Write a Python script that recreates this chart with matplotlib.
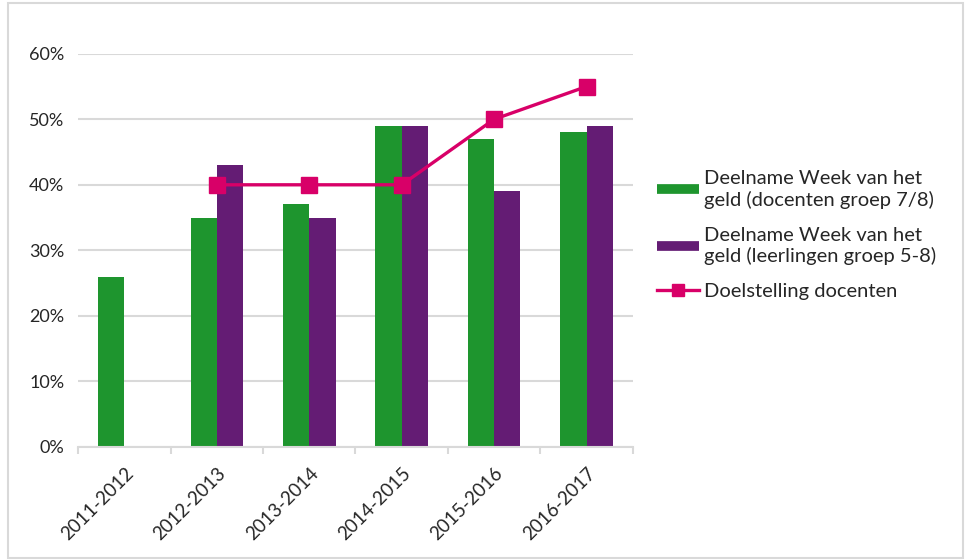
import matplotlib.pyplot as plt
import numpy as np
from matplotlib.lines import Line2D
from matplotlib.ticker import PercentFormatter

plt.rcParams['font.family'] = ['Lato', 'DejaVu Sans']

# schooljaren en deelnamecijfers (in %)
jaren = ['2011-2012', '2012-2013', '2013-2014', '2014-2015', '2015-2016', '2016-2017']
docenten = [26, 35, 37, 49, 47, 48]
leerlingen = [np.nan, 43, 35, 49, 39, 49]
doelstelling = [np.nan, 40, 40, 40, 50, 55]

labels = ['Deelname Week van het\ngeld (docenten groep 7/8)',
          'Deelname Week van het\ngeld (leerlingen groep 5-8)',
          'Doelstelling docenten']

groen = '#1E952E'
paars = '#641C74'
roze = '#D80068'
tekst = '#262626'

fig = plt.figure(figsize=(9.66, 5.6), dpi=100)
ax = fig.add_axes([0.081, 0.202, 0.574, 0.702])

x = np.arange(len(jaren))
w = 0.285
ax.bar(x - w / 2, docenten, w, color=groen, zorder=2)
ax.bar(x + w / 2, leerlingen, w, color=paars, zorder=2)
ax.plot(x, doelstelling, color=roze, lw=2.4, marker='s', markersize=11, zorder=3)

ax.set_ylim(0, 60)
ax.set_xlim(-0.5, len(jaren) - 0.5)
ax.set_yticks(np.arange(0, 61, 10))
ax.yaxis.set_major_formatter(PercentFormatter(decimals=0))
ax.grid(axis='y', color='#D9D9D9', lw=1.5, zorder=0)
ax.tick_params(axis='y', length=0, pad=10, labelsize=13, labelcolor=tekst)

ax.set_xticks(x)
ax.set_xticklabels(jaren, rotation=45, ha='right', rotation_mode='anchor',
                   fontsize=13.5, color=tekst)
ax.tick_params(axis='x', length=0, pad=13)
# tickstreepjes op de grenzen tussen de jaren
ax.set_xticks(np.arange(-0.5, len(jaren)), minor=True)
ax.tick_params(axis='x', which='minor', length=5, color='#D9D9D9', width=1.5)

for s in ['top', 'right', 'left']:
    ax.spines[s].set_visible(False)
ax.spines['bottom'].set_color('#D9D9D9')
ax.spines['bottom'].set_linewidth(1.5)

handles = [Line2D([], [], color=groen, lw=7, solid_capstyle='butt'),
           Line2D([], [], color=paars, lw=7, solid_capstyle='butt'),
           Line2D([], [], color=roze, lw=2.4, marker='s', markersize=8)]
fig.legend(handles, labels, loc='upper left', bbox_to_anchor=(0.661, 0.728),
           frameon=False, fontsize=14.5, handlelength=2.1, handletextpad=0.25,
           labelspacing=0.9, labelcolor=tekst)

# grijze kader rond de grafiek
rand = plt.Rectangle((0.008, 0.003), 0.989, 0.992, transform=fig.transFigure,
                     fill=False, edgecolor='#D9D9D9', lw=1.5)
fig.patches.append(rand)

fig.savefig('out.png', dpi=100)
